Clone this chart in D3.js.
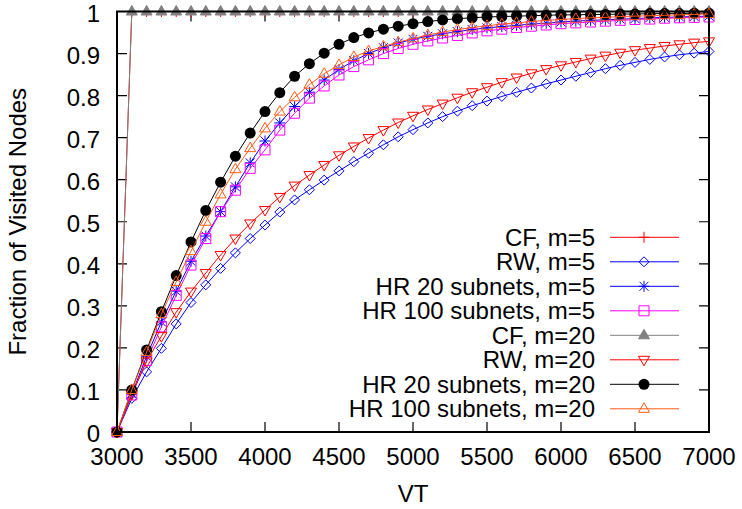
<!DOCTYPE html>
<html>
<head>
<meta charset="utf-8">
<script src="https://cdn.jsdelivr.net/npm/d3@7"></script>
<style>
  body { margin: 0; background: #fff; }
  svg text { font-family: "Liberation Sans", Arial, Helvetica, sans-serif; }
</style>
</head>
<body>
<svg id="chart" width="742" height="509"></svg>
<script>
// x values (VT)
const vt = [3000, 3100, 3200, 3300, 3400, 3500, 3600, 3700, 3800, 3900,
  4000, 4100, 4200, 4300, 4400, 4500, 4600, 4700, 4800, 4900,
  5000, 5100, 5200, 5300, 5400, 5500, 5600, 5700, 5800, 5900,
  6000, 6100, 6200, 6300, 6400, 6500, 6600, 6700, 6800, 6900, 7000];

const cf5 = [0, 1, 1, 1, 1, 1, 1, 1, 1, 1, 1, 1, 1, 1, 1, 1, 1, 1, 1, 1,
  1, 1, 1, 1, 1, 1, 1, 1, 1, 1, 1, 1, 1, 1, 1, 1, 1, 1, 1, 1, 1];
const rw5 = [0, 0.08, 0.143, 0.199, 0.257, 0.308, 0.35, 0.389, 0.426, 0.46,
  0.492, 0.523, 0.552, 0.576, 0.599, 0.621, 0.643, 0.663, 0.683, 0.702,
  0.719, 0.735, 0.75, 0.763, 0.776, 0.787, 0.798, 0.808, 0.818, 0.828,
  0.837, 0.846, 0.855, 0.864, 0.872, 0.879, 0.886, 0.892, 0.897, 0.901, 0.905];
const hr20_5 = [0, 0.09, 0.18, 0.262, 0.335, 0.406, 0.466, 0.524, 0.583, 0.64,
  0.692, 0.735, 0.774, 0.808, 0.837, 0.862, 0.883, 0.9, 0.914, 0.925,
  0.934, 0.941, 0.947, 0.952, 0.957, 0.961, 0.964, 0.967, 0.97, 0.972,
  0.975, 0.977, 0.979, 0.98, 0.982, 0.983, 0.985, 0.986, 0.987, 0.988, 0.989];
const hr100_5 = [0, 0.088, 0.17, 0.25, 0.325, 0.397, 0.46, 0.524, 0.575, 0.627,
  0.671, 0.718, 0.758, 0.794, 0.823, 0.849, 0.869, 0.885, 0.9, 0.912,
  0.922, 0.93, 0.937, 0.943, 0.949, 0.954, 0.958, 0.962, 0.965, 0.968,
  0.971, 0.973, 0.975, 0.977, 0.979, 0.981, 0.982, 0.984, 0.985, 0.986, 0.987];
const cf20 = [0, 1, 1, 1, 1, 1, 1, 1, 1, 1, 1, 1, 1, 1, 1, 1, 1, 1, 1, 1,
  1, 1, 1, 1, 1, 1, 1, 1, 1, 1, 1, 1, 1, 1, 1, 1, 1, 1, 1, 1, 1];
const rw20 = [0, 0.09, 0.168, 0.228, 0.285, 0.334, 0.378, 0.421, 0.46, 0.496,
  0.528, 0.559, 0.586, 0.611, 0.635, 0.658, 0.679, 0.699, 0.718, 0.736,
  0.752, 0.767, 0.781, 0.795, 0.808, 0.82, 0.832, 0.843, 0.853, 0.863,
  0.872, 0.88, 0.888, 0.895, 0.902, 0.908, 0.913, 0.918, 0.922, 0.926, 0.929];
const hr20_20 = [0, 0.1, 0.195, 0.286, 0.372, 0.452, 0.527, 0.594, 0.656, 0.711,
  0.762, 0.807, 0.846, 0.876, 0.901, 0.922, 0.938, 0.949, 0.958, 0.965,
  0.971, 0.976, 0.98, 0.983, 0.985, 0.987, 0.988, 0.989, 0.99, 0.991,
  0.992, 0.992, 0.993, 0.993, 0.994, 0.994, 0.995, 0.995, 0.995, 0.996, 0.996];
const hr100_20 = [0, 0.1, 0.19, 0.28, 0.357, 0.43, 0.5, 0.565, 0.625, 0.675,
  0.722, 0.762, 0.796, 0.826, 0.852, 0.873, 0.892, 0.906, 0.917, 0.927,
  0.936, 0.944, 0.951, 0.957, 0.962, 0.966, 0.97, 0.973, 0.976, 0.979,
  0.981, 0.983, 0.985, 0.986, 0.988, 0.989, 0.99, 0.991, 0.992, 0.993, 0.994];

const seriesNames = ["CF, m=5", "RW, m=5", "HR 20 subnets, m=5", "HR 100 subnets, m=5",
  "CF, m=20", "RW, m=20", "HR 20 subnets, m=20", "HR 100 subnets, m=20"];
const seriesValues = [cf5, rw5, hr20_5, hr100_5, cf20, rw20, hr20_20, hr100_20];
const seriesColors = ["#ff0000", "#0000ff", "#0000ff", "#ff00ff",
  "#808080", "#ff0000", "#000000", "#ff5a14"];
const seriesMarks = ["plus", "diamond", "star", "square", "triUpFilled", "triDown", "circle", "triUp"];

const xTicks = [3000, 3500, 4000, 4500, 5000, 5500, 6000, 6500, 7000];
const yTicks = [0, 0.1, 0.2, 0.3, 0.4, 0.5, 0.6, 0.7, 0.8, 0.9, 1];

const margin = {left: 117, right: 33, top: 11.5, bottom: 77};
const width = 742, height = 509;

const svg = d3.select("#chart");

const x = d3.scaleLinear().domain([3000, 7000]).range([margin.left, width - margin.right]);
const y = d3.scaleLinear().domain([0, 1]).range([height - margin.bottom, margin.top]);

// marker shapes, gnuplot style
const markPath = {
  plus: "M-5.5,0H5.5M0,-5.5V5.5",
  star: "M-5.5,0H5.5M0,-5.5V5.5M-4.5,-4.5L4.5,4.5M-4.5,4.5L4.5,-4.5",
  diamond: "M0,-5L5,0L0,5L-5,0Z",
  square: "M-5,-5H5V5H-5Z",
  triUp: "M0,-6L5.5,3.5L-5.5,3.5Z",
  triUpFilled: "M0,-6L5.5,3.5L-5.5,3.5Z",
  triDown: "M0,6L5.5,-3.5L-5.5,-3.5Z"
};

function drawMark(g, kind, color) {
  if (kind === "circle") {
    g.append("circle").attr("r", 5.5).attr("fill", color);
  } else {
    const filled = kind === "triUpFilled";
    g.append("path").attr("d", markPath[kind])
      .attr("fill", filled ? color : "none")
      .attr("stroke", color)
      .attr("stroke-width", 1);
  }
}

// ticks (inward, mirrored)
const tickLen = 10;
const ticks = svg.append("g").attr("stroke", "#000").attr("stroke-width", 1.2);
ticks.selectAll(".yt").data(yTicks).join("path")
  .attr("d", d => `M${x(3000)},${y(d)}h${tickLen}M${x(7000)},${y(d)}h${-tickLen}`);
ticks.selectAll(".xt").data(xTicks).join("path")
  .attr("d", d => `M${x(d)},${y(0)}v${-tickLen}M${x(d)},${y(1)}v${tickLen}`);

// series
const line = d3.line().x((d, i) => x(vt[i])).y(d => y(d));
seriesValues.forEach((vals, s) => {
  const g = svg.append("g");
  g.append("path").datum(vals)
    .attr("d", line)
    .attr("fill", "none")
    .attr("stroke", seriesColors[s])
    .attr("stroke-width", 1);
  g.selectAll("g").data(vals).join("g")
    .attr("transform", (d, i) => `translate(${x(vt[i])},${y(d)})`)
    .each(function() { drawMark(d3.select(this), seriesMarks[s], seriesColors[s]); });
});

// frame
svg.append("rect")
  .attr("x", x(3000)).attr("y", y(1))
  .attr("width", x(7000) - x(3000)).attr("height", y(0) - y(1))
  .attr("fill", "none").attr("stroke", "#000").attr("stroke-width", 2);

// tick labels
const fs = 24;
svg.append("g").selectAll("text").data(yTicks).join("text")
  .attr("x", 100).attr("y", d => y(d)).attr("dy", "0.42em")
  .attr("text-anchor", "end").attr("font-size", fs)
  .text(d => d3.format("~g")(d));
svg.append("g").selectAll("text").data(xTicks).join("text")
  .attr("x", d => x(d)).attr("y", 456.5).attr("dy", "0.36em")
  .attr("text-anchor", "middle").attr("font-size", fs)
  .text(d => d);

// axis titles
svg.append("text")
  .attr("x", (x(3000) + x(7000)) / 2).attr("y", 493).attr("dy", "0.36em")
  .attr("text-anchor", "middle").attr("font-size", fs).text("VT");
svg.append("text")
  .attr("transform", `translate(17,${(y(0) + y(1)) / 2}) rotate(-90)`)
  .attr("dy", "0.36em")
  .attr("text-anchor", "middle").attr("font-size", fs).text("Fraction of Visited Nodes");

// legend
const legend = svg.append("g");
seriesNames.forEach((name, s) => {
  const ly = 237.3 + s * 24.5;
  legend.append("text")
    .attr("x", 595).attr("y", ly).attr("dy", "0.36em")
    .attr("text-anchor", "end").attr("font-size", fs).text(name);
  legend.append("line")
    .attr("x1", 610).attr("x2", 679).attr("y1", ly).attr("y2", ly)
    .attr("stroke", seriesColors[s]).attr("stroke-width", 1);
  const mg = legend.append("g").attr("transform", `translate(644,${ly})`);
  drawMark(mg, seriesMarks[s], seriesColors[s]);
});
</script>
</body>
</html>
